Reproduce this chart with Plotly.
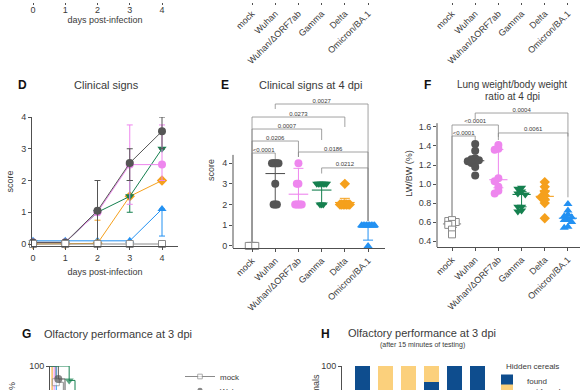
import numpy as np
import plotly.graph_objects as go

W, H = 585, 390
def PX(x): return x / W
def PY(y): return 1 - y / H
def xdom(l, r): return [l / W, r / W]
def ydom(b, t): return [max(0, 1 - b / H), min(1, 1 - t / H)]

FONT = "Arial, 'Liberation Sans', sans-serif"
TXT = "#3a3a3a"
AXC = "#505050"
BRC = "#8a8a8a"

# ---------------- data ----------------
days = [0, 1, 2, 3, 4]
variants = ["mock", "Wuhan", "Wuhan/ΔORF7ab", "Gamma", "Delta", "Omicron/BA.1"]

# D: clinical signs over time (mean with SD up / down)
d_mock = [0, 0, 0, 0, 0]
d_mock_up = [0, 0, 0, 0, 0]
d_mock_dn = [0, 0, 0, 0, 0]
d_wuhan = [0.05, 0.05, 1.05, 2.55, 3.55]
d_wuhan_up = [0, 0, 0.95, 0.45, 0.45]
d_wuhan_dn = [0, 0, 1.05, 0.55, 0.55]
d_dorf = [0.05, 0.05, 1.0, 2.5, 2.5]
d_dorf_up = [0, 0, 0, 1.25, 1.25]
d_dorf_dn = [0, 0, 0, 1.25, 0.5]
d_gamma = [0.05, 0.05, 1.0, 1.5, 3.0]
d_gamma_up = [0, 0, 0, 0.5, 0]
d_gamma_dn = [0, 0, 0, 0.5, 0]
d_delta = [0, 0, 0.02, 1.5, 2.0]
d_delta_up = [0, 0, 0.73, 0, 0]
d_delta_dn = [0, 0, 0, 0, 0]
d_omicron = [0.1, 0.1, 0.1, 0.1, 1.1]
d_omicron_up = [0, 0, 0, 0, 0]
d_omicron_dn = [0, 0, 0, 0, 0.85]

# E: clinical signs at 4 dpi (individual scores)
e_mock = [0, 0, 0, 0, 0]
e_wuhan = [4, 4, 4, 4, 4, 3, 2, 2, 2]
e_dorf = [4, 3, 3, 2, 2, 2, 2, 2]
e_gamma = [3, 3, 3, 3, 3, 3, 3, 2, 2, 2]
e_delta = [3, 2, 2, 2, 2, 2, 2, 2]
e_omicron = [1, 1, 1, 1, 1, 1, 1, 1, 1, 0]
e_mean = [0, 3.5, 2.5, 2.7, 2.1, 0.9]
e_sd_lo = [0, 2.0, 2.0, 2.0, 2.0, 0.28]
e_sd_hi = [0, 4.0, 3.75, 3.0, 2.3, 1.0]
# E significance brackets
e_br_from = [0, 0, 0, 0, 1, 2, 3]
e_br_to = [1, 2, 3, 4, 5, 5, 5]
e_br_y = [4.49, 5.07, 5.65, 6.23, 6.86, 4.54, 3.77]
e_br_left = [0.2, 0.2, 0.2, 0.2, 6.62, 4.3, 3.5]
e_br_right = [4.2, 4.3, 5.12, 5.75, 1.2, 1.2, 1.2]
e_br_p = ["<0.0001", "0.0206", "0.0007", "0.0273", "0.0027", "0.0186", "0.0212"]

# F: lung weight / body weight (%)
f_mock = [0.61, 0.60, 0.62, 0.58, 0.57, 0.52, 0.47]
f_wuhan = [1.42, 1.35, 1.27, 1.26, 1.25, 1.24, 1.23, 1.22, 1.18, 1.09]
f_dorf = [1.41, 1.37, 1.36, 1.06, 1.03, 0.97, 0.93, 0.90]
f_gamma = [0.96, 0.95, 0.92, 0.90, 0.89, 0.76, 0.76, 0.72, 0.71]
f_delta = [1.02, 0.97, 0.92, 0.88, 0.86, 0.84, 0.80, 0.64]
f_omicron = [0.79, 0.72, 0.68, 0.66, 0.65, 0.63, 0.62, 0.60, 0.55, 0.54]
f_br_from = [0, 0, 1, 2]
f_br_to = [2, 1, 5, 5]
f_br_y = [1.621, 1.505, 1.747, 1.537]
f_br_left = [0.66, 0.66, 1.684, 1.463]
f_br_right = [1.495, 1.463, 1.50, 0.86]
f_br_p = ["<0.0001", "<0.0001", "0.0004", "0.0061"]

# G: olfactory performance (% animals still searching), minutes
g_t_mock = [0, 0.7, 1.6]
g_p_mock = [100, 87.5, 75]
g_t_wuhan = [0, 1.0, 1.8]
g_p_wuhan = [100, 90, 80]
g_t_dorf = [0, 0.5]
g_p_dorf = [100, 62.5]
g_t_gamma = [0, 2.3, 3.0]
g_p_gamma = [100, 88.9, 77.8]
g_t_delta = [0, 0.25]
g_p_delta = [100, 62.5]
g_t_omicron = [0, 0.75]
g_p_omicron = [100, 70]

# H: hidden cereals found / not found (% animals)
h_found = [100, 0, 0, 87.5, 100, 100]
h_not_found = [0, 100, 100, 12.5, 0, 0]

# ---------------- styles ----------------
COL = {"mock": "#8a8a8a", "Wuhan": "#555555", "Wuhan/ΔORF7ab": "#ee86ee",
       "Gamma": "#15804f", "Delta": "#f5a01c", "Omicron/BA.1": "#2391f2"}
SYM = {"mock": "square", "Wuhan": "circle", "Wuhan/ΔORF7ab": "circle",
       "Gamma": "triangle-down", "Delta": "diamond", "Omicron/BA.1": "triangle-up"}
FOUND_C = "#0e4d8e"
NOTFOUND_C = "#fbd07c"


def mk(v, size=7):
    c = COL[v]
    if v == "mock":
        return dict(symbol=SYM[v], size=size - 1, color="white", line=dict(color=c, width=1))
    return dict(symbol=SYM[v], size=size, color=c, line=dict(width=0))


def swarm(vals, xs, ys, diam, step):
    vals = np.asarray(vals, float)
    order = np.argsort(-vals, kind="stable")
    placed, offs = [], np.zeros(len(vals))
    for i in order:
        v = vals[i]
        k = 0
        while True:
            cands = [0.0] if k == 0 else [-k * step, k * step]
            ok = None
            for c in cands:
                if all(((c - o) * xs) ** 2 + ((v - pv) * ys) ** 2 >= diam ** 2 for o, pv in placed):
                    ok = c
                    break
            if ok is not None:
                break
            k += 1
        offs[i] = ok
        placed.append((ok, v))
    return offs


fig = go.Figure()

# ---------- top strip: axes of panels A, B, C (only their labels are in view) ----------
for xa, ya, xs in (("x", "y", days), ("x2", "y2", list(range(6))), ("x3", "y3", list(range(6)))):
    fig.add_trace(go.Scatter(x=xs, y=[None] * len(xs), mode="markers", xaxis=xa, yaxis=ya,
                             showlegend=False, hoverinfo="skip"))

# ---------- D ----------
d_series = [("Omicron/BA.1", d_omicron, d_omicron_up, d_omicron_dn),
            ("Delta", d_delta, d_delta_up, d_delta_dn),
            ("Gamma", d_gamma, d_gamma_up, d_gamma_dn),
            ("Wuhan/ΔORF7ab", d_dorf, d_dorf_up, d_dorf_dn),
            ("Wuhan", d_wuhan, d_wuhan_up, d_wuhan_dn),
            ("mock", d_mock, d_mock_up, d_mock_dn)]
for v, y, up, dn in d_series:
    fig.add_trace(go.Scatter(
        x=days, y=y, mode="lines+markers", xaxis="x4", yaxis="y4",
        line=dict(color=COL[v], width=1), marker=mk(v, 8), cliponaxis=False,
        error_y=dict(type="data", symmetric=False, array=up, arrayminus=dn,
                     color=COL[v], thickness=1, width=3),
        showlegend=False, hoverinfo="skip"))

# ---------- E ----------
E_XS, E_YS = 23.2, 20.7
e_sets = [e_mock, e_wuhan, e_dorf, e_gamma, e_delta, e_omicron]
for i, (v, vals) in enumerate(zip(variants, e_sets)):
    off = swarm(vals, E_XS, E_YS, 1.5, 0.07)
    fig.add_trace(go.Scatter(
        x=i + off, y=vals, mode="markers", xaxis="x5", yaxis="y5",
        marker=mk(v, 8), cliponaxis=False, showlegend=False, hoverinfo="skip"))
for i, v in enumerate(variants):
    if i == 0:
        continue
    fig.add_trace(go.Scatter(
        x=[i], y=[e_mean[i]], mode="markers", xaxis="x5", yaxis="y5",
        marker=dict(symbol="line-ew", size=14, line=dict(color=COL[v], width=1.1)),
        error_y=dict(type="data", symmetric=False, array=[e_sd_hi[i] - e_mean[i]],
                     arrayminus=[e_mean[i] - e_sd_lo[i]], color=COL[v], thickness=1, width=5),
        cliponaxis=False, showlegend=False, hoverinfo="skip"))

def bracket_xy(fr, to, yy, yl, yr):
    bx, by = [], []
    for a, b, h, l, r in zip(fr, to, yy, yl, yr):
        bx += [a, a, b, b, None]
        by += [l, h, h, r, None]
    return bx, by

bx, by = bracket_xy(e_br_from, e_br_to, e_br_y, e_br_left, e_br_right)
fig.add_trace(go.Scatter(x=bx, y=by, mode="lines", xaxis="x5", yaxis="y5",
                         line=dict(color=BRC, width=0.8), cliponaxis=False,
                         showlegend=False, hoverinfo="skip"))
fig.add_trace(go.Scatter(
    x=[(a + b) / 2 for a, b in zip(e_br_from, e_br_to)], y=e_br_y, text=e_br_p,
    mode="text", textposition="top center", xaxis="x5", yaxis="y5",
    textfont=dict(size=6, color=TXT, family=FONT), cliponaxis=False,
    showlegend=False, hoverinfo="skip"))

# ---------- F ----------
F_XS, F_YS = 23.2, 95.0
f_sets = [f_mock, f_wuhan, f_dorf, f_gamma, f_delta, f_omicron]
for i, (v, vals) in enumerate(zip(variants, f_sets)):
    q1, med, q3 = np.percentile(vals, [25, 50, 75])
    fig.add_trace(go.Scatter(
        x=[i], y=[med], mode="markers", xaxis="x6", yaxis="y6",
        marker=dict(symbol="line-ew", size=13, line=dict(color=COL[v], width=1.1)),
        error_y=dict(type="data", symmetric=False, array=[q3 - med], arrayminus=[med - q1],
                     color=COL[v], thickness=1, width=5),
        cliponaxis=False, showlegend=False, hoverinfo="skip"))
    off = swarm(vals, F_XS, F_YS, 3.5, 0.08)
    fig.add_trace(go.Scatter(
        x=i + off, y=vals, mode="markers", xaxis="x6", yaxis="y6",
        marker=mk(v, 8), cliponaxis=False, showlegend=False, hoverinfo="skip"))

bx, by = bracket_xy(f_br_from, f_br_to, f_br_y, f_br_left, f_br_right)
fig.add_trace(go.Scatter(x=bx, y=by, mode="lines", xaxis="x6", yaxis="y6",
                         line=dict(color=BRC, width=0.8), cliponaxis=False,
                         showlegend=False, hoverinfo="skip"))
fig.add_trace(go.Scatter(
    x=[(a + b) / 2 for a, b in zip(f_br_from, f_br_to)], y=f_br_y, text=f_br_p,
    mode="text", textposition="top center", xaxis="x6", yaxis="y6",
    textfont=dict(size=6, color=TXT, family=FONT), cliponaxis=False,
    showlegend=False, hoverinfo="skip"))

# ---------- G ----------
g_series = [("Delta", g_t_delta, g_p_delta), ("Wuhan/ΔORF7ab", g_t_dorf, g_p_dorf),
            ("Omicron/BA.1", g_t_omicron, g_p_omicron), ("mock", g_t_mock, g_p_mock),
            ("Wuhan", g_t_wuhan, g_p_wuhan), ("Gamma", g_t_gamma, g_p_gamma)]
for v, t, p in g_series:
    m = mk(v, 8)
    m["size"] = [0] + [m["size"]] * (len(t) - 1)
    leg = {"mock": "legend", "Wuhan": "legend2"}.get(v)
    fig.add_trace(go.Scatter(
        x=t, y=p, mode="lines+markers", line=dict(color=COL[v], width=1, shape="hv"),
        marker=m, xaxis="x7", yaxis="y7", cliponaxis=False, name=v,
        showlegend=leg is not None, legend=leg or "legend", hoverinfo="skip"))

# ---------- H ----------
fig.add_trace(go.Bar(x=list(range(6)), y=h_found, xaxis="x8", yaxis="y8", width=0.68,
                     marker=dict(color=FOUND_C, line=dict(width=0)), name="found",
                     legend="legend3", cliponaxis=True, hoverinfo="skip"))
fig.add_trace(go.Bar(x=list(range(6)), y=h_not_found, xaxis="x8", yaxis="y8", width=0.68,
                     marker=dict(color=NOTFOUND_C, line=dict(width=0)), name="not found",
                     legend="legend4", cliponaxis=True, hoverinfo="skip"))

# ---------------- axes ----------------
tickf = dict(size=9, color=TXT, family=FONT)
base = dict(showgrid=False, zeroline=False, ticks="outside", ticklen=3, tickwidth=1,
            tickcolor=AXC, linecolor=AXC, linewidth=1, tickfont=tickf, automargin=False,
            fixedrange=True)

D_X = xdom(32, 178)
E_X = xdom(233, 385)
F_X = xdom(437, 580)
TOP_Y = [1 - 2 / H, 1]

lay = dict(
    # top remnants of panels A, B, C
    xaxis=dict(base, domain=D_X, anchor="y", range=[-0.031, 4.496], tickvals=days,
               showline=False, ticklen=2, ticklabelstandoff=-3,
               title=dict(text="days post-infection", font=tickf, standoff=2)),
    yaxis=dict(domain=TOP_Y, visible=False, range=[0, 1], fixedrange=True),
    xaxis2=dict(base, domain=E_X, anchor="y2", range=[-0.82, 5.73], tickvals=list(range(6)),
                ticktext=variants, tickangle=-45, showline=False, ticklen=2),
    yaxis2=dict(domain=TOP_Y, visible=False, range=[0, 1], fixedrange=True),
    xaxis3=dict(base, domain=F_X, anchor="y3", range=[-0.647, 5.52], tickvals=list(range(6)),
                ticktext=variants, tickangle=-45, showline=False, ticklen=2),
    yaxis3=dict(domain=TOP_Y, visible=False, range=[0, 1], fixedrange=True),
    # D
    xaxis4=dict(base, domain=D_X, anchor="y4", range=[-0.031, 4.496], tickvals=days,
                showline=True, title=dict(text="days post-infection", font=tickf, standoff=6)),
    yaxis4=dict(base, domain=ydom(246, 117), anchor="x4", range=[-0.063, 4.0],
                tickvals=[0, 1, 2, 3, 4], showline=True,
                title=dict(text="score", font=tickf, standoff=6)),
    # E
    xaxis5=dict(base, domain=E_X, anchor="y5", range=[-0.82, 5.73], tickvals=list(range(6)),
                ticktext=variants, tickangle=-45, showline=True),
    yaxis5=dict(base, domain=ydom(248, 92), anchor="x5", range=[-0.1, 7.44],
                tickvals=[0, 1, 2, 3, 4], showline=False,
                title=dict(text="score", font=tickf, standoff=6)),
    # F
    xaxis6=dict(base, domain=F_X, anchor="y6", range=[-0.647, 5.52], tickvals=list(range(6)),
                ticktext=variants, tickangle=-45, showline=True),
    yaxis6=dict(base, domain=ydom(247, 100), anchor="x6", range=[0.337, 1.884],
                tickvals=[0.4, 0.6, 0.8, 1.0, 1.2, 1.4, 1.6], tickformat=".1f", showline=False,
                title=dict(text="LW/BW (%)", font=tickf, standoff=4)),
    # G
    xaxis7=dict(base, domain=xdom(50, 175), anchor="y7", range=[0, 15], visible=False),
    yaxis7=dict(base, domain=ydom(390, 366), anchor="x7", range=[81.5, 100],
                tickvals=[0, 20, 40, 60, 80, 100], showline=True),
    # H
    xaxis8=dict(base, domain=xdom(342, 492), anchor="y8", range=[-0.9, 5.63], visible=False),
    yaxis8=dict(base, domain=ydom(390, 366), anchor="x8", range=[81.5, 100],
                tickvals=[0, 20, 40, 60, 80, 100], showline=True),
)

shapes = [
    dict(type="line", xref="x5 domain", yref="y5", x0=0, x1=0, y0=-0.1, y1=4.4,
         line=dict(color=AXC, width=1)),
    dict(type="line", xref="x6 domain", yref="y6", x0=0, x1=0, y0=0.337, y1=1.64,
         line=dict(color=AXC, width=1)),
]

def ann(text, x, y, size=11, bold=False, xanchor="center", yanchor="middle", color=TXT, angle=0):
    return dict(text=f"<b>{text}</b>" if bold else text, x=PX(x), y=PY(y), xref="paper",
                yref="paper", showarrow=False, xanchor=xanchor, yanchor=yanchor,
                textangle=angle, font=dict(size=size, color=color, family=FONT))

annotations = [
    ann("D", 22, 85, 12, True, color="#111"),
    ann("Clinical signs", 106, 85, 11),
    ann("E", 225, 85, 12, True, color="#111"),
    ann("Clinical signs at 4 dpi", 310, 85, 11),
    ann("F", 427, 85, 12, True, color="#111"),
    ann("Lung weight/body weight", 512, 84, 10),
    ann("ratio at 4 dpi", 512, 96, 10),
    ann("G", 26, 334, 12, True, color="#111"),
    ann("Olfactory performance at 3 dpi", 42, 334, 11, xanchor="left"),
    ann("H", 325, 334, 12, True, color="#111"),
    ann("Olfactory performance at 3 dpi", 422, 333, 11),
    ann("(after 15 minutes of testing)", 422, 345, 7),
    ann("Hidden cereals", 504, 366, 8, xanchor="left"),
    ann("Animals in %", 12, 380, 9, xanchor="center", yanchor="top", angle=-90),
    ann("% of animals", 316, 372, 9, xanchor="center", yanchor="top", angle=-90),
]

legfont = dict(size=8, color=TXT, family=FONT)
def legend_at(x, ytop):
    return dict(x=PX(x), y=PY(ytop), xanchor="left", yanchor="top", font=legfont,
                bgcolor="rgba(0,0,0,0)", borderwidth=0, itemclick=False, itemdoubleclick=False)

fig.update_layout(
    **lay,
    shapes=shapes,
    annotations=annotations,
    width=W, height=H,
    margin=dict(l=0, r=0, t=0, b=0, pad=0, autoexpand=False),
    paper_bgcolor="white", plot_bgcolor="rgba(0,0,0,0)",
    font=dict(family=FONT, color=TXT),
    barmode="stack",
    legend=legend_at(180, 362),
    legend2=legend_at(180, 376),
    legend3=legend_at(487, 366),
    legend4=legend_at(487, 376),
    hovermode=False,
)

fig.write_html("out.html", config={"displayModeBar": False, "staticPlot": True},
               post_script="document.body.style.margin='0';document.body.style.overflow='hidden';")
